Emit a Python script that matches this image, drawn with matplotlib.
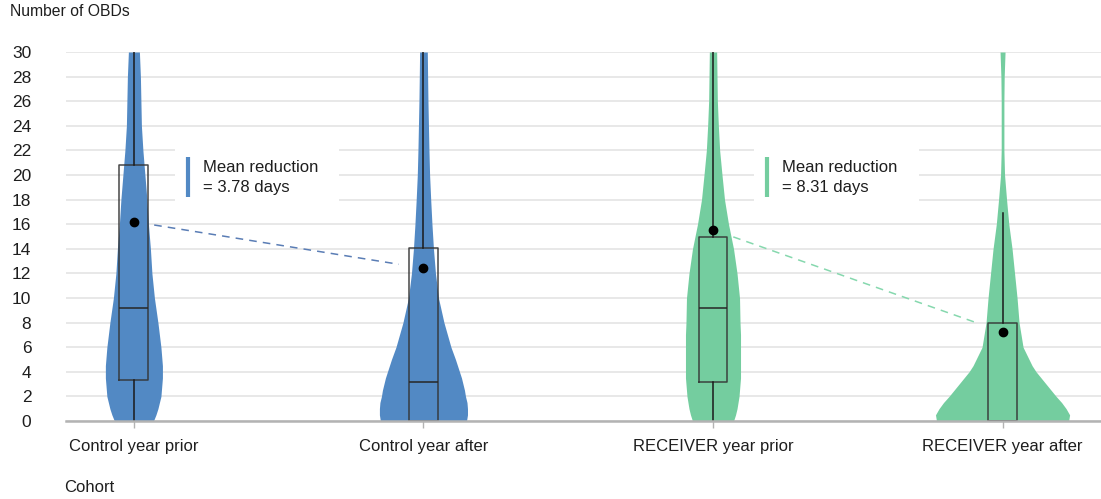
import matplotlib.pyplot as plt
from matplotlib.patches import Rectangle

plt.rcParams['font.family'] = ['Liberation Sans', 'DejaVu Sans']

# categories and colours
cohorts = ['Control year prior', 'Control year after',
           'RECEIVER year prior', 'RECEIVER year after']
positions = [0, 1, 2, 3]
colors = ['#5289c4', '#5289c4', '#74cd9f', '#74cd9f']

# violin outline: full width (pixels in the reference) at each OBD level
levels = [0, 0.5, 1, 1.5, 2, 2.5, 3, 3.5, 4, 4.5, 5, 6, 7, 8, 10, 12, 14, 16, 18, 20,
          22, 24, 26, 28, 30]
control_prior_width = [39, 44, 48, 51, 54, 55, 56, 57, 57, 57, 56, 54, 51, 48, 41, 36,
                       33, 29, 26, 22, 18, 15, 14, 13, 11]
control_after_width = [86, 88, 88, 87, 84, 82, 79, 76, 72, 68, 64, 55, 48, 41, 30, 24,
                       20, 17, 14.5, 12.3, 11, 10, 9, 8.3, 7.7]
receiver_prior_width = [41, 45, 48, 50, 52, 53, 54, 55, 55, 55, 55, 55, 55, 54, 53, 48,
                        41, 31, 23, 18, 13.3, 10.7, 8.7, 8, 7.3]
receiver_after_width = [132, 134, 127, 118, 107, 97, 87, 77, 67, 59, 53, 41, 37, 33, 29,
                        24, 19, 12.5, 8, 4, 2.7, 2.7, 2.7, 3.3, 5]
violin_widths = [control_prior_width, control_after_width,
                 receiver_prior_width, receiver_after_width]

# box plot statistics
q1 = [3.35, 0.0, 3.2, 0.0]
medians = [9.2, 3.2, 9.2, 0.0]
q3 = [20.8, 14.1, 15.0, 8.0]
whisker_low = [0.0, 0.0, 0.0, 0.0]
whisker_high = [31.0, 31.0, 31.0, 16.9]
means = [16.2, 12.42, 15.55, 7.24]
reductions = [3.78, 8.31]

px_per_unit = 289.3

fig = plt.figure(figsize=(11.01, 4.99), dpi=100)
ax = fig.add_axes([66 / 1101, 1 - 421 / 499, 1 - 66 / 1101, (421 - 52) / 499])

for pos, w, c in zip(positions, violin_widths, colors):
    half = [v / (2 * px_per_unit) for v in w]
    ax.fill_betweenx(levels, [pos - h for h in half], [pos + h for h in half],
                     color=c, linewidth=0, zorder=2)

stats = []
for i in range(len(cohorts)):
    stats.append({'med': medians[i], 'q1': q1[i], 'q3': q3[i],
                  'whislo': whisker_low[i], 'whishi': whisker_high[i],
                  'mean': means[i], 'fliers': []})

ax.bxp(stats, positions=positions, widths=0.1, showmeans=True, showfliers=False,
       showcaps=False,
       boxprops=dict(color='#333333', linewidth=1.1, alpha=0.9),
       whiskerprops=dict(color='#1a1a1a', linewidth=1.1),
       medianprops=dict(color='#262626', linewidth=1.1),
       meanprops=dict(marker='o', markerfacecolor='black', markeredgecolor='black',
                      markersize=6),
       zorder=3)

# dashed lines joining the means, with mean reduction labels
dash_colors = ['#5a7db5', '#86d8ae']
for k, (a, b) in enumerate([(0, 1), (2, 3)]):
    x0, x1 = positions[a] + 0.07, positions[b] - 0.085
    slope = (means[b] - means[a]) / (positions[b] - positions[a])
    ax.plot([x0, x1],
            [means[a] + slope * (x0 - positions[a]), means[a] + slope * (x1 - positions[a])],
            color=dash_colors[k], linewidth=1.1, dashes=(5, 4), zorder=2)

    left = positions[a] + 0.142
    ax.add_patch(Rectangle((left, 17.8), 0.568, 4.4, facecolor='white',
                           edgecolor='none', zorder=1))
    ax.plot([left + 0.045, left + 0.045], [18.2, 21.45], color=colors[a],
            linewidth=3, solid_capstyle='butt', zorder=3)
    ax.text(left + 0.097, 20.65, 'Mean reduction', fontsize=12, color='#1e1e1e',
            va='center', ha='left', zorder=4)
    ax.text(left + 0.097, 19.0, f'= {reductions[k]:.2f} days', fontsize=12,
            color='#1e1e1e', va='center', ha='left', zorder=4)

ax.set_xlim(-0.2345, 3.34)
ax.set_ylim(0, 30)
ax.set_yticks(range(0, 31, 2))
ax.set_xticks(positions)
ax.set_xticklabels(cohorts)

ax.set_axisbelow(True)
ax.grid(axis='y', color='#e6e6e6', linewidth=1.3)
ax.grid(axis='x', visible=False)
for side in ['top', 'right', 'left']:
    ax.spines[side].set_visible(False)
ax.spines['bottom'].set_color('#b3b3b3')
ax.spines['bottom'].set_linewidth(1.8)
ax.spines['bottom'].set_zorder(5)

ax.tick_params(axis='y', length=0, labelsize=12.5, pad=25, labelcolor='#1e1e1e')
ax.tick_params(axis='x', length=5, width=1, color='#b3b3b3', labelsize=12,
               pad=8, labelcolor='#1e1e1e')

fig.text(10 / 1101, 1 - 12 / 499, 'Number of OBDs', fontsize=11.3, color='#1e1e1e',
         ha='left', va='center')
fig.text(64 / 1101, 1 - 487 / 499, 'Cohort', fontsize=12, color='#1e1e1e',
         ha='left', va='center')

fig.savefig('out.png', dpi=100)
